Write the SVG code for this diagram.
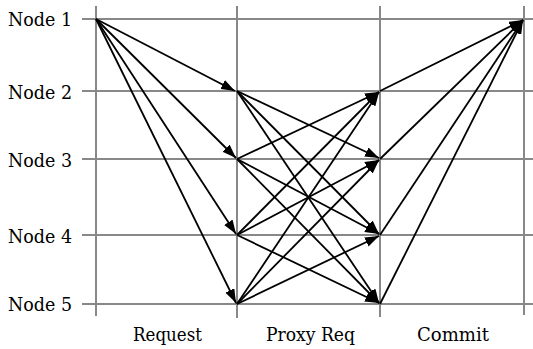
<svg xmlns="http://www.w3.org/2000/svg" width="533" height="349" viewBox="0 0 533 349">
<style>
.grid{stroke:#888;stroke-width:2;fill:none}
.lbl{font-family:'DejaVu Serif',serif;font-size:18px;fill:#000}
.arr{stroke:#000;stroke-width:1.8;fill:none;marker-end:url(#ah)}
</style>
<defs>
<marker id="ah" markerUnits="userSpaceOnUse" markerWidth="14" markerHeight="10" refX="14" refY="5" orient="auto">
<path d="M0,0 L14,5 L0,10 Z" fill="#000"/>
</marker>
</defs>
<rect width="533" height="349" fill="#fff"/>
<g id="grid">
<line class="grid" x1="82" y1="19" x2="533" y2="19"/>
<line class="grid" x1="82" y1="91" x2="533" y2="91"/>
<line class="grid" x1="82" y1="159" x2="533" y2="159"/>
<line class="grid" x1="82" y1="235" x2="533" y2="235"/>
<line class="grid" x1="82" y1="304" x2="533" y2="304"/>
<line class="grid" x1="96" y1="6" x2="96" y2="316"/>
<line class="grid" x1="237" y1="6" x2="237" y2="318"/>
<line class="grid" x1="380" y1="6" x2="380" y2="317"/>
<line class="grid" x1="524" y1="6" x2="524" y2="315"/>
</g>
<g id="node1"><text class="lbl" x="8" y="26" textLength="64" lengthAdjust="spacingAndGlyphs">Node 1</text></g>
<g id="node2"><text class="lbl" x="8" y="99" textLength="64" lengthAdjust="spacingAndGlyphs">Node 2</text></g>
<g id="node3"><text class="lbl" x="8" y="167" textLength="64" lengthAdjust="spacingAndGlyphs">Node 3</text></g>
<g id="node4"><text class="lbl" x="8" y="243" textLength="64" lengthAdjust="spacingAndGlyphs">Node 4</text></g>
<g id="node5"><text class="lbl" x="8" y="311" textLength="64" lengthAdjust="spacingAndGlyphs">Node 5</text></g>
<g id="phases">
<text class="lbl" x="133" y="341" textLength="69" lengthAdjust="spacingAndGlyphs">Request</text>
<text class="lbl" x="266" y="341" textLength="89" lengthAdjust="spacingAndGlyphs">Proxy Req</text>
<text class="lbl" x="417" y="341" textLength="72" lengthAdjust="spacingAndGlyphs">Commit</text>
</g>
<g id="connectors">
<line class="arr" x1="96" y1="19" x2="235" y2="91"/>
<line class="arr" x1="96" y1="19" x2="236" y2="158"/>
<line class="arr" x1="96" y1="19" x2="236" y2="234"/>
<line class="arr" x1="96" y1="19" x2="236" y2="303"/>

<line class="arr" x1="237" y1="91" x2="379" y2="158"/>
<line class="arr" x1="237" y1="91" x2="379" y2="234"/>
<line class="arr" x1="237" y1="91" x2="379" y2="303"/>
<line class="arr" x1="237" y1="159" x2="379" y2="92"/>
<line class="arr" x1="237" y1="159" x2="379" y2="234"/>
<line class="arr" x1="237" y1="159" x2="379" y2="303"/>
<line class="arr" x1="237" y1="235" x2="379" y2="92"/>
<line class="arr" x1="237" y1="235" x2="379" y2="160"/>
<line class="arr" x1="237" y1="235" x2="379" y2="303"/>
<line class="arr" x1="237" y1="304" x2="379" y2="92"/>
<line class="arr" x1="237" y1="304" x2="379" y2="160"/>
<line class="arr" x1="237" y1="304" x2="379" y2="236"/>

<line class="arr" x1="380" y1="91" x2="523" y2="20"/>
<line class="arr" x1="380" y1="159" x2="523" y2="20"/>
<line class="arr" x1="380" y1="235" x2="523" y2="20"/>
<line class="arr" x1="380" y1="304" x2="523" y2="20"/>
</g>
</svg>
